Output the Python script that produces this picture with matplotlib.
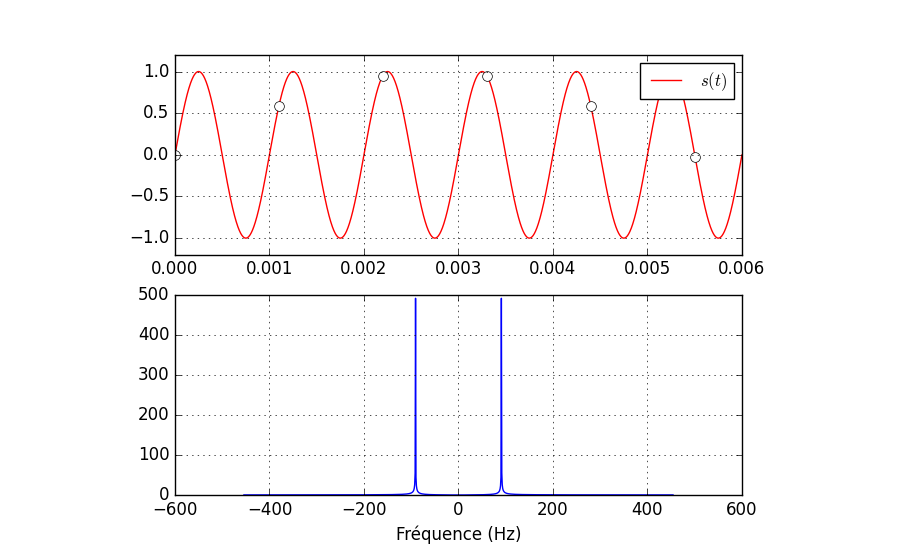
import numpy as np
import matplotlib
matplotlib.use("Agg")
import matplotlib.pyplot as plt

# signal parameters
f0 = 1000.0          # Hz, signal frequency (period 0.001 s)
Te = 0.0011          # s, sampling period
n_samples = 1001     # number of samples used for the spectrum

# samples shown on the top plot
t_samples = [0.0, 0.0011, 0.0022, 0.0033, 0.0044, 0.0055]
s_samples = [0.0, 0.59, 0.95, 0.95, 0.59, -0.02]

plt.style.use("classic")
plt.rcParams["axes.unicode_minus"] = True
fig = plt.figure(figsize=(9, 5.6), dpi=100, facecolor="white")

# signal continu + echantillons
ax1 = fig.add_axes([0.1944, 0.545, 0.63, 0.357])
t = np.linspace(0, 0.006, 2000)
s = np.sin(2 * np.pi * f0 * t)
ax1.plot(t, s, "r-", label="$s(t)$")
ax1.plot(t_samples, s_samples, "o", mfc="white", mec="k", ms=7)
ax1.set_xlim(0, 0.006)
ax1.set_ylim(-1.2, 1.2)
ax1.set_xticks(np.arange(0, 0.0061, 0.001))
ax1.set_yticks([-1.0, -0.5, 0.0, 0.5, 1.0])
ax1.xaxis.set_major_formatter(matplotlib.ticker.FormatStrFormatter("%.3f"))
ax1.yaxis.set_major_formatter(
    matplotlib.ticker.FuncFormatter(lambda v, p: ("%.1f" % v).replace("-", "\u2212")))
ax1.grid(True)
ax1.legend(loc="upper right", fontsize=12, handlelength=2.4, borderpad=0.4)

# spectre du signal echantillonne
ax2 = fig.add_axes([0.1944, 0.116, 0.63, 0.357])
te = np.arange(n_samples) * Te
se = np.sin(2 * np.pi * f0 * te)
S = np.fft.fftshift(np.abs(np.fft.fft(se)))
freq = np.fft.fftshift(np.fft.fftfreq(n_samples, Te))
ax2.plot(freq, S, "b-")
ax2.set_xlim(-600, 600)
ax2.set_ylim(0, 500)
ax2.set_xlabel("Fréquence (Hz)")
ax2.grid(True)

fig.savefig("out.png", dpi=100, facecolor="white")
